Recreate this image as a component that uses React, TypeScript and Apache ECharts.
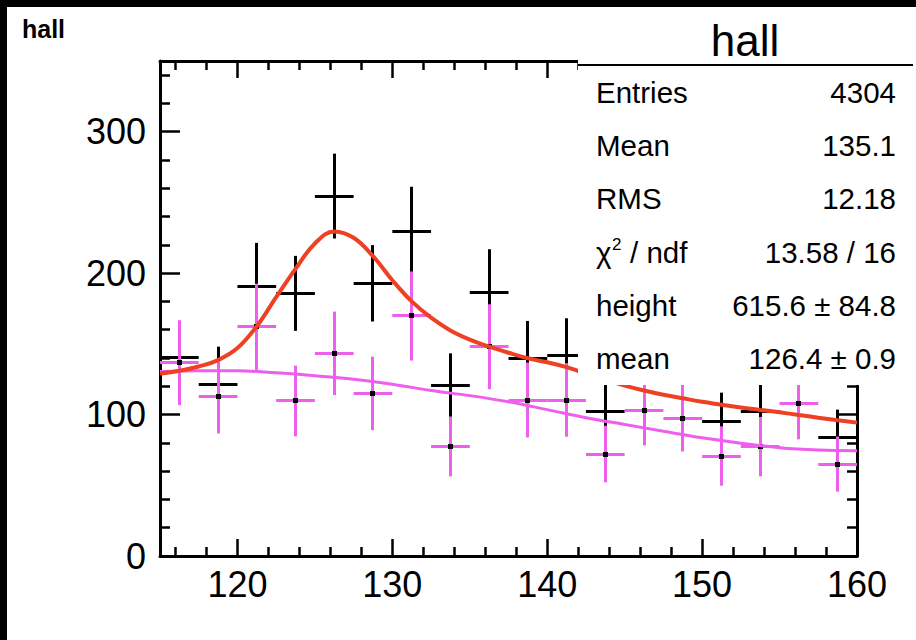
import React, { useEffect, useRef } from "react";
import * as echarts from "echarts";

// ---- data ----
const BIN_WIDTH = 2.5;
const BIN_CENTERS = [
  116.25, 118.75, 121.25, 123.75, 126.25, 128.75, 131.25, 133.75, 136.25,
  138.75, 141.25, 143.75, 146.25, 148.75, 151.25, 153.75, 156.25, 158.75,
];
const TOTAL_COUNTS = [
  140.5, 121.4, 190.4, 185.7, 254.5, 192.8, 229.1, 120.9, 186.2, 139.8, 142.1,
  102, 140, 130, 95, 102, 128, 83.5,
];
const TOTAL_ERRORS = [
  24, 26.6, 31, 26.5, 30, 27, 32, 22.4, 30.7, 26.4, 26, 22, 26, 25, 20.5, 21,
  25, 20,
];
const BKG_COUNTS = [
  136.7, 112.6, 162.1, 109.6, 143.3, 115, 169.7, 77.3, 148, 110.3, 110.3, 72.1,
  103.2, 97.4, 70.7, 77.3, 108, 65,
];
const BKG_ERRORS = [
  30, 26, 30.5, 25, 29.5, 26, 31.5, 21, 30, 26.5, 26, 20, 25, 23.5, 21, 21,
  25.5, 19.5,
];

// fitted curves
const FIT_X = [
  115, 116.25, 117.5, 118.75, 120, 121.25, 122.5, 123.75, 125, 126.25, 127.5,
  128.75, 130, 131.25, 132.5, 133.75, 135, 136.25, 137.5, 138.75, 140, 141.25,
  142.5, 143.75, 145, 146.25, 147.5, 148.75, 150, 151.25, 152.5, 153.75, 155,
  156.25, 157.5, 158.75, 160,
];
const FIT_TOTAL = [
  129, 131, 134, 138.5, 147, 162.5, 183, 203, 221, 229.5, 225, 212, 195, 180,
  168.5, 159.5, 153, 148, 143.7, 139.8, 137, 133.5, 129, 124.5, 120.5, 117, 114,
  111.5, 109, 107, 105, 103.3, 101.6, 99.7, 97.8, 96, 94.3,
];
const BKG_FIT_X = [
  115, 117.5, 120, 122.5, 125, 127.5, 130, 132.5, 135, 137.5, 140, 142.5, 145,
  147.5, 150, 152.5, 155, 157.5, 160,
];
const BKG_FIT = [
  130.5, 131, 131, 129.5, 127.5, 125, 121.5, 117, 113.4, 109, 103.5, 97.8, 93,
  88.2, 83.6, 79.8, 76.6, 75, 74.5,
];

const X_MAJOR = [120, 130, 140, 150, 160];
const X_MINOR = [116, 118, 122, 124, 126, 128, 132, 134, 136, 138, 142, 144, 146, 148, 152, 154, 156, 158];
const Y_MAJOR = [0, 100, 200, 300];
const Y_MINOR = [20, 40, 60, 80, 120, 140, 160, 180, 220, 240, 260, 280, 320, 340];

const TITLE = "hall";
const STAT_NAME = "hall";
const STAT_LABELS = ["Entries", "Mean", "RMS", "χ", "height", "mean"];
const STAT_VALUES = ["4304", "135.1", "12.18", "13.58 / 16", "615.6 ± 84.8", "126.4 ± 0.9"];

const FONT = "'Liberation Sans', Arial, Helvetica, sans-serif";
const MAGENTA = "#ee5fee";
const RED = "#ee4124";

const snap = (v: number) => Math.round(v - 0.5) + 0.5;

function errorSeries(
  name: string,
  values: number[],
  errors: number[],
  color: string,
  marker: boolean,
  z: number
) {
  return {
    type: "custom",
    name,
    xAxisIndex: 0,
    yAxisIndex: 0,
    z,
    clip: true,
    encode: { x: 0, y: 1 },
    data: BIN_CENTERS.map((c, i) => [c, values[i], errors[i]]),
    renderItem: (_params: any, api: any) => {
      const x = api.value(0);
      const y = api.value(1);
      const e = api.value(2);
      const l = api.coord([x - BIN_WIDTH / 2, y]);
      const r = api.coord([x + BIN_WIDTH / 2, y]);
      const t = api.coord([x, y + e]);
      const b = api.coord([x, y - e]);
      const c = api.coord([x, y]);
      const cx = snap(c[0]);
      const cy = snap(c[1]);
      const children: any[] = [
        { type: "line", shape: { x1: l[0], y1: cy, x2: r[0], y2: cy }, style: { stroke: color, lineWidth: 3 } },
        { type: "line", shape: { x1: cx, y1: t[1], x2: cx, y2: b[1] }, style: { stroke: color, lineWidth: 3 } },
      ];
      if (marker) {
        children.push({ type: "rect", shape: { x: cx - 2.5, y: cy - 2.5, width: 5, height: 5 }, style: { fill: "#000" } });
      }
      return { type: "group", children };
    },
  };
}

function xAxis(position: string, ticks: number[], len: number, showLine: boolean, showLabel: boolean) {
  return {
    type: "value",
    gridIndex: 0,
    position,
    min: 115,
    max: 160,
    axisLine: { show: showLine, onZero: false, lineStyle: { color: "#000", width: 3 } },
    axisTick: { show: true, inside: true, length: len, customValues: ticks, lineStyle: { color: "#000", width: 2.5 } },
    axisLabel: showLabel
      ? { show: true, customValues: X_MAJOR, fontSize: 36, color: "#000", fontFamily: FONT, margin: 10 }
      : { show: false },
    splitLine: { show: false },
  };
}

function yAxis(position: string, ticks: number[], len: number, showLine: boolean, showLabel: boolean) {
  return {
    type: "value",
    gridIndex: 0,
    position,
    min: 0,
    max: 350,
    axisLine: { show: showLine, onZero: false, lineStyle: { color: "#000", width: 3 } },
    axisTick: { show: true, inside: true, length: len, customValues: ticks, lineStyle: { color: "#000", width: 2.5 } },
    axisLabel: showLabel
      ? { show: true, customValues: Y_MAJOR, fontSize: 36, color: "#000", fontFamily: FONT, margin: 14 }
      : { show: false },
    splitLine: { show: false },
  };
}

export default function App() {
  const ref = useRef<HTMLDivElement>(null);
  useEffect(() => {
    document.body.style.margin = "0";
    const chart = echarts.init(ref.current!, undefined, { renderer: "svg" });
    const rowY = (i: number) => 92.5 + 53.2 * i;
    const statTexts: any[] = [];
    STAT_LABELS.forEach((lab, i) => {
      statTexts.push({
        type: "text",
        x: 596,
        y: rowY(i),
        z: 101,
        style: { text: lab, fontSize: 29.5, fontFamily: FONT, fill: "#000", align: "left", verticalAlign: "middle" },
      });
      statTexts.push({
        type: "text",
        x: 896,
        y: rowY(i),
        z: 101,
        style: { text: STAT_VALUES[i], fontSize: 29.5, fontFamily: FONT, fill: "#000", align: "right", verticalAlign: "middle" },
      });
    });
    // superscript and rest of the chi2 label
    statTexts.push({
      type: "text", x: 612, y: rowY(3) - 8, z: 101,
      style: { text: "2", fontSize: 17, fontFamily: FONT, fill: "#000", align: "left", verticalAlign: "middle" },
    });
    statTexts.push({
      type: "text", x: 630, y: rowY(3), z: 101,
      style: { text: "/ ndf", fontSize: 29.5, fontFamily: FONT, fill: "#000", align: "left", verticalAlign: "middle" },
    });

    const option: any = {
      animation: false,
      backgroundColor: "#fff",
      textStyle: { fontFamily: FONT },
      grid: { left: 160, top: 61, width: 697, height: 495, containLabel: false },
      xAxis: [
        xAxis("bottom", X_MAJOR, 17, true, true),
        xAxis("bottom", X_MINOR, 9, false, false),
        xAxis("top", X_MAJOR, 17, true, false),
        xAxis("top", X_MINOR, 9, false, false),
      ],
      yAxis: [
        yAxis("left", Y_MAJOR, 20, true, true),
        yAxis("left", Y_MINOR, 10, false, false),
        yAxis("right", Y_MAJOR, 20, true, false),
        yAxis("right", Y_MINOR, 10, false, false),
      ],
      series: [
        errorSeries("total", TOTAL_COUNTS, TOTAL_ERRORS, "#000", false, 2),
        errorSeries("background", BKG_COUNTS, BKG_ERRORS, MAGENTA, true, 3),
        {
          type: "line",
          name: "bkgfit",
          xAxisIndex: 0,
          yAxisIndex: 0,
          z: 4,
          smooth: 0.4,
          showSymbol: false,
          lineStyle: { color: MAGENTA, width: 3 },
          data: BKG_FIT_X.map((x, i) => [x, BKG_FIT[i]]),
        },
        {
          type: "line",
          name: "fit",
          xAxisIndex: 0,
          yAxisIndex: 0,
          z: 5,
          smooth: 0.4,
          showSymbol: false,
          lineStyle: { color: RED, width: 4 },
          data: FIT_X.map((x, i) => [x, FIT_TOTAL[i]]),
        },
      ],
      graphic: [
        { type: "rect", z: 100, shape: { x: 578, y: 7, width: 335, height: 378 }, style: { fill: "#fff" } },
        { type: "line", z: 101, shape: { x1: 578, y1: 65, x2: 913, y2: 65 }, style: { stroke: "#000", lineWidth: 2 } },
        {
          type: "text", x: 745, y: 40, z: 101,
          style: { text: STAT_NAME, fontSize: 44, fontFamily: FONT, fill: "#000", align: "center", verticalAlign: "middle" },
        },
        ...statTexts,
        {
          type: "text", x: 22, y: 29, z: 101,
          style: { text: TITLE, fontSize: 25, fontWeight: "bold", fontFamily: FONT, fill: "#000", align: "left", verticalAlign: "middle" },
        },
        { type: "rect", z: 102, shape: { x: 0, y: 0, width: 916, height: 7 }, style: { fill: "#000" } },
        { type: "rect", z: 102, shape: { x: 0, y: 0, width: 7, height: 640 }, style: { fill: "#000" } },
      ],
    };
    chart.setOption(option);
    return () => chart.dispose();
  }, []);
  return <div ref={ref} style={{ width: 916, height: 640, background: "#fff" }} />;
}
